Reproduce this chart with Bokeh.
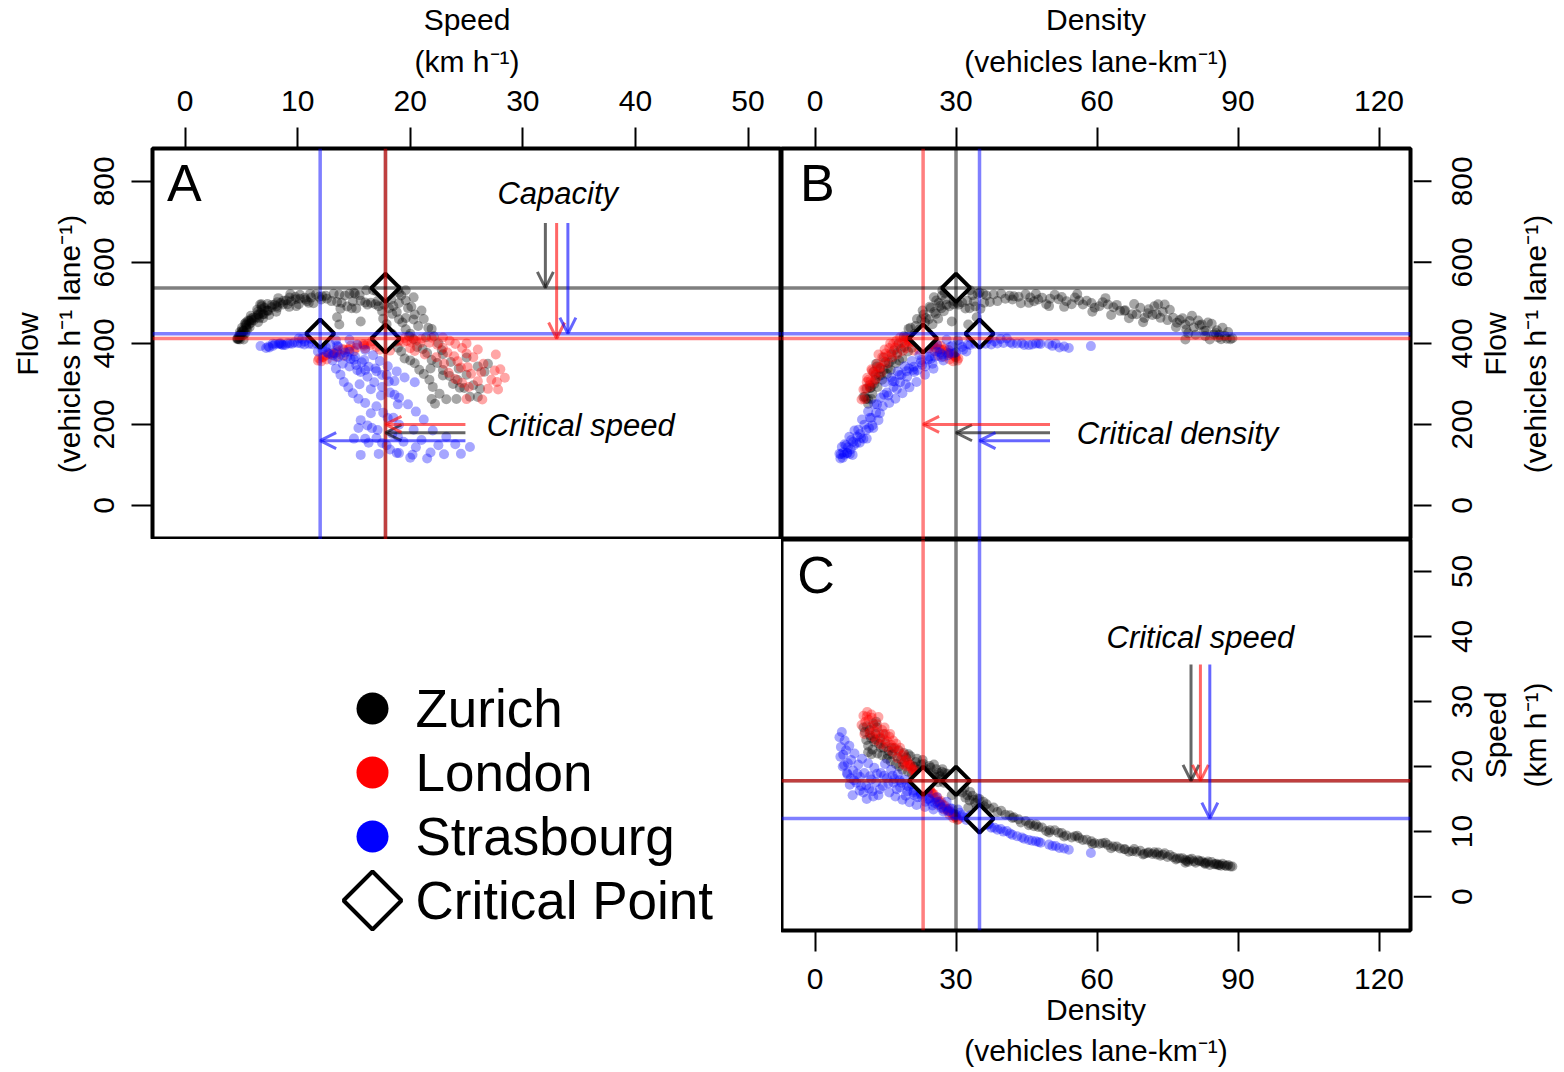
import numpy as np
from bokeh.plotting import figure
from bokeh.models import Range1d, FixedTicker, Span, Arrow, OpenHead, Label
from bokeh.layouts import row, column
from bokeh.embed import file_html
from bokeh.resources import INLINE
from bokeh.core.properties import value

FONT = "Liberation Sans"

# ---------------- data ----------------
cities = ["Zurich", "London", "Strasbourg"]
colors = ["#000000", "#ff0000", "#0000ff"]

zurich_density = [
    10.6, 10.9, 11.3, 11.6, 11.9, 12.2, 12.6, 12.9, 13.3, 13.6, 13.9, 14.3, 14.6, 15.0, 15.3,
    15.7, 16.1, 16.4, 16.8, 17.2, 17.5, 17.9, 18.3, 18.6, 19.0, 19.4, 19.8, 20.2, 20.6, 21.0,
    21.4, 21.8, 22.2, 22.6, 23.0, 23.4, 23.8, 24.2, 24.6, 25.0, 25.4, 25.8, 26.2, 26.6, 27.0,
    27.4, 27.8, 28.2, 28.6, 29.0, 29.4, 29.8, 30.3, 30.8, 31.3, 31.8, 32.4, 32.9, 33.5, 34.1,
    34.6, 35.2, 35.8, 36.5, 37.2, 38.0, 38.8, 39.6, 40.5, 41.4, 42.3, 43.3,
    44.8, 46.6, 48.3, 51.8, 53.5, 55.3, 57.0, 60.5, 62.3, 64.9, 67.5, 69.2, 70.1, 71.0, 72.7,
    74.4, 76.2, 77.0, 78.8, 79.7, 80.6, 82.3, 83.2, 84.9, 85.8, 88.4, 86.7, 84.0, 78.8,
    50.0, 58.8, 66.0, 73.5, 81.5, 87.2, 45.8, 63.5, 75.5, 81.0, 29.1, 32.6, 34.4, 12.4, 13.2, 11.0,
    18.9, 20.3, 21.7, 23.1, 24.4, 25.7, 26.9, 27.6, 28.9, 29.5, 30.6, 31.1, 32.0, 33.0, 33.8,
    35.0, 36.0, 22.9, 19.9, 21.2, 23.6, 26.3, 28.0, 30.0, 25.3, 27.1,
    42.0, 43.8, 47.5, 49.2, 52.5, 54.6, 56.2, 59.5, 61.2, 65.8, 68.4, 70.8, 73.0, 75.0, 77.6,
    79.0, 82.8, 85.2, 86.0, 87.6, 83.6,
    11.7, 12.8, 14.0, 15.5, 13.0, 14.6, 16.3, 17.8, 12.0, 11.3, 10.3,
    45.5, 47.0, 49.8, 51.0, 53.0, 55.8, 57.8, 59.0, 61.8, 63.0, 64.2, 66.8, 67.9, 69.8,
    71.8, 72.2, 74.0, 76.8, 78.2, 79.4, 80.2, 81.8, 83.0, 84.4, 85.5, 86.4, 87.9, 88.8,
]
zurich_speed = [
    25.3, 24.1, 23.2, 25.6, 24.4, 22.6, 23.8, 25.0, 22.0, 23.5, 24.3, 21.7, 22.9, 23.6, 21.2,
    22.4, 20.8, 21.9, 22.8, 20.4, 21.5, 20.0, 21.1, 19.5, 20.6, 21.4, 19.2, 20.3, 18.9, 19.9,
    20.7, 18.6, 19.6, 20.3, 18.4, 19.3, 18.0, 19.0, 19.8, 17.9, 18.8, 19.6, 17.6, 18.5, 19.2,
    17.5, 18.3, 18.9, 17.2, 18.0, 16.9, 17.6, 16.5, 17.2, 16.0, 16.7, 15.6, 14.8, 15.5, 14.4,
    15.1, 13.8, 14.6, 14.2, 13.5, 13.7, 13.0, 13.2, 12.6, 12.5, 12.2, 11.9,
    11.63, 10.82, 10.62, 9.83, 9.42, 9.28, 8.70, 8.13, 7.96, 7.40, 6.99, 7.05, 6.60, 6.82, 6.49,
    6.67, 6.08, 5.86, 5.67, 5.71, 5.45, 5.43, 5.18, 4.97, 4.83, 4.64, 5.06, 4.88, 5.20,
    10.2, 8.5, 7.3, 6.3, 5.6, 4.8, 11.2, 7.7, 6.4, 5.2, 15.6, 13.7, 13.5, 26.6, 26.0, 26.2,
    22.1, 21.6, 21.2, 20.4, 20.1, 18.4, 18.1, 19.0, 18.4, 17.1, 16.2, 17.0, 15.2, 16.1, 14.9,
    15.0, 13.9, 21.0, 21.9, 20.0, 19.6, 19.0, 17.7, 17.5, 20.3, 19.6,
    12.1, 11.4, 10.7, 10.1, 9.8, 9.1, 9.0, 8.2, 8.2, 7.3, 6.9, 6.7, 6.8, 6.1, 5.9,
    5.5, 5.2, 5.0, 4.9, 4.7, 5.4,
    24.8, 24.2, 22.9, 21.8, 26.9, 25.0, 22.9, 22.5, 21.9, 22.2, 26.0,
    10.99, 11.11, 9.88, 10.2, 9.25, 9.35, 8.74, 8.10, 8.28, 7.46, 7.71, 6.92, 7.32, 6.48,
    6.55, 6.81, 6.46, 5.73, 5.91, 5.35, 5.84, 5.44, 5.04, 5.31, 5.06, 4.75, 4.87, 4.65,
]

london_density = [
    9.9, 10.3, 10.7, 11.1, 11.4, 11.8, 12.1, 12.5, 12.8, 13.2, 13.6, 13.9, 14.3, 14.7, 15.0,
    15.4, 15.8, 16.2, 16.6, 17.0, 17.3, 17.7, 18.1, 18.5, 18.9, 19.2, 19.6, 20.0, 20.4, 20.8,
    21.2, 21.6, 22.0, 22.4, 22.8, 23.2, 23.6, 24.0, 24.4, 24.8, 25.2, 25.6, 26.0, 26.4, 26.8,
    27.2, 27.6, 28.0, 28.4, 28.8, 29.2, 29.6, 30.0, 30.5,
    19.8, 21.4, 23.4, 25.0, 26.6, 28.2, 29.8, 22.6, 24.6, 20.6,
    10.5, 11.6, 12.3, 13.0, 14.0, 15.2, 16.4, 17.5, 18.7, 19.4, 21.0, 22.2, 23.0, 24.2, 25.4,
    26.2, 27.4, 28.6, 29.4, 30.3, 13.5, 14.8, 16.0, 12.0, 11.0,
]
london_speed = [
    26.4, 27.8, 26.9, 28.4, 27.2, 26.0, 27.5, 26.3, 25.4, 26.5, 25.1, 24.5, 25.6, 24.2, 25.0,
    23.9, 24.6, 23.3, 24.0, 22.9, 23.5, 22.4, 22.9, 21.7, 21.9, 20.9, 21.0, 20.1, 20.2, 19.4,
    19.5, 18.7, 18.7, 18.0, 18.1, 17.4, 17.1, 16.5, 16.6, 15.9, 15.8, 15.2, 15.3, 14.6, 14.7,
    14.1, 14.0, 13.5, 13.5, 13.0, 12.8, 12.5, 12.2, 11.9,
    20.5, 19.0, 17.3, 15.9, 14.5, 13.3, 12.3, 17.9, 16.2, 19.7,
    25.0, 25.2, 24.6, 24.0, 23.4, 23.0, 22.3, 21.3, 20.4, 20.0, 18.2, 17.3, 17.0, 16.0, 15.0,
    14.1, 13.4, 12.6, 12.1, 11.8, 27.6, 26.0, 25.0, 28.0, 27.7,
]

strasbourg_density = [
    5.2, 5.5, 5.7, 6.0, 6.3, 6.6, 7.0, 7.3, 7.7, 8.1, 8.4, 8.8, 9.2, 9.6, 10.0,
    10.5, 10.9, 11.3, 11.7, 12.2, 12.6, 13.0, 13.5, 14.0, 14.4, 14.9, 15.3, 15.8, 16.2, 16.7,
    17.1, 17.6, 18.1, 18.6, 19.1, 19.6, 20.1, 20.6, 21.1, 21.6, 22.2, 22.8, 23.4, 24.0, 24.6,
    25.2, 25.9, 26.6, 27.3, 28.0, 28.8, 29.6, 30.4, 31.3, 32.2, 33.1, 34.1, 35.2, 36.3, 37.5,
    38.8, 40.1, 41.5, 43.0, 44.5, 46.2, 48.0, 49.8, 52.0, 54.0, 58.7,
    16.5, 18.0, 19.5, 21.0, 22.5, 24.0, 25.5, 27.0, 28.5, 30.0, 31.5, 33.0, 35.8, 37.0,
    39.5, 42.0, 45.5, 47.0, 50.5, 53.0, 8.0, 9.5, 11.0, 12.4, 7.4, 6.8, 5.9,
    5.4, 6.2, 6.9, 7.6, 8.3, 9.0, 9.8, 10.3, 11.5, 12.0, 13.2, 13.8, 14.7, 15.6, 16.9,
    17.4, 18.4, 19.3, 20.0, 20.9, 21.8, 22.6, 23.5, 24.3, 25.0, 26.0, 26.9, 28.3, 29.2, 30.8,
    32.6, 34.6, 36.8, 38.2, 40.8, 44.0, 47.6, 51.2,
]
strasbourg_speed = [
    24.5, 23.0, 25.3, 21.8, 24.0, 22.5, 20.5, 23.2, 21.0, 19.4, 22.0, 17.5, 20.3, 18.4, 21.2,
    19.0, 17.1, 20.5, 18.5, 16.2, 19.8, 17.6, 15.6, 19.0, 17.0, 20.4, 18.2, 16.0, 19.5, 17.5,
    15.4, 18.8, 16.8, 14.9, 18.0, 16.2, 14.5, 17.3, 15.6, 14.1, 16.7, 15.2, 13.8, 16.0, 14.7,
    13.4, 15.3, 14.2, 13.1, 14.6, 13.6, 12.7, 13.4, 12.5, 11.8, 12.5, 11.7, 11.3, 11.0, 10.6,
    10.3, 10.0, 9.7, 9.3, 8.9, 8.6, 8.3, 8.0, 7.5, 7.2, 6.7,
    18.6, 17.9, 17.0, 16.3, 15.7, 15.0, 14.4, 13.8, 13.2, 12.6, 12.2, 12.0, 11.6, 11.1,
    10.4, 9.5, 8.7, 8.5, 7.8, 7.4, 15.6, 16.3, 15.0, 15.4, 17.2, 19.0, 20.0,
    21.5, 20.2, 18.8, 18.2, 17.9, 18.9, 17.0, 16.0, 16.6, 18.0, 18.9, 16.5, 18.6, 17.4, 18.1,
    16.5, 17.5, 15.5, 16.9, 16.0, 15.3, 15.9, 14.6, 15.1, 14.0, 14.6, 13.6, 13.1, 13.5, 12.9,
    12.2, 11.9, 11.2, 10.6, 10.1, 9.1, 8.4, 7.8,
]

# critical points (Zurich, London, Strasbourg)
crit_density = [30.0, 23.0, 35.0]
crit_speed = [17.8, 17.8, 12.0]
crit_flow = [537, 412, 424]

speed_ticks = [0, 10, 20, 30, 40, 50]
density_ticks = [0, 30, 60, 90, 120]
flow_ticks = [0, 200, 400, 600, 800]
legend_labels = ["Zurich", "London", "Strasbourg", "Critical Point"]

FLOW_TITLE = ["Flow", "(vehicles h\u207b\u00b9 lane\u207b\u00b9)"]
SPEED_TITLE = ["Speed", "(km h\u207b\u00b9)"]
DENS_TITLE = ["Density", "(vehicles lane-km\u207b\u00b9)"]

densities = [zurich_density, london_density, strasbourg_density]
speeds = [zurich_speed, london_speed, strasbourg_speed]
# flow = speed x density (fundamental relation of traffic flow)
flows = [list(np.round(np.array(d) * np.array(s), 1)) for d, s in zip(densities, speeds)]

SPEED_X = (-2.89, 52.97)
FLOW_Y = (-84, 881)
DENS_X = (-7.13, 126.7)
SPEED_Y = (-5.2, 54.9)

FW, FH = 629, 391
LEFT_B, TOP_B, BOTTOM_B = 152, 148, 140
GAP_R, SIDE_W = 3, 147


def make_panel(xr, yr, xloc, yloc, left, right, top, bottom):
    p = figure(frame_width=FW, frame_height=FH,
               x_range=Range1d(*xr), y_range=Range1d(*yr),
               x_axis_location=xloc, y_axis_location=yloc,
               min_border_left=left, min_border_right=right,
               min_border_top=top, min_border_bottom=bottom,
               toolbar_location=None, tools="", output_backend="svg")
    p.grid.visible = False
    p.outline_line_color = "black"
    p.outline_line_width = 4
    p.outline_line_alpha = 1
    p.background_fill_color = "white"
    p.border_fill_color = "white"
    return p


def style_axis(ax, ticks, label, tick_orient=None, standoff=17, label_standoff=6):
    ax.ticker = FixedTicker(ticks=ticks)
    ax.minor_tick_in = 0
    ax.minor_tick_out = 0
    ax.major_tick_in = 0
    ax.major_tick_out = 21
    ax.major_tick_line_width = 2
    ax.major_tick_line_color = "black"
    ax.axis_line_color = None
    ax.major_label_text_font = FONT
    ax.major_label_text_font_size = "30px"
    ax.major_label_text_color = "black"
    ax.major_label_standoff = standoff
    ax.axis_label = label
    ax.axis_label_text_font = FONT
    ax.axis_label_text_font_size = "30px"
    ax.axis_label_text_font_style = "normal"
    ax.axis_label_text_color = "black"
    ax.axis_label_text_line_height = 1.25
    ax.axis_label_standoff = label_standoff
    if tick_orient is not None:
        ax.major_label_orientation = tick_orient


def side_axis(y_range, ticks, title_lines, top, bottom):
    """Right-hand axis strip (ticks, labels and two-line title reading bottom-to-top),
    sharing the y range of the panel on its left; x is in pixels from the frame edge."""
    s = figure(frame_width=SIDE_W, frame_height=FH, x_range=Range1d(GAP_R, GAP_R + SIDE_W),
               y_range=y_range, min_border_left=0, min_border_right=0,
               min_border_top=top, min_border_bottom=bottom,
               x_axis_location=None, y_axis_location=None,
               toolbar_location=None, tools="", output_backend="svg")
    s.grid.visible = False
    s.outline_line_color = None
    s.background_fill_color = "white"
    s.border_fill_color = "white"
    s.segment(x0=GAP_R, x1=21, y0=ticks, y1=ticks, line_color="black", line_width=2)
    s.text(x=51.5, y=ticks, text=[str(t) for t in ticks], angle=np.pi / 2,
           text_font=value(FONT), text_font_size="30px", text_align="center",
           text_baseline="middle", text_color="black")
    mid = (y_range.start + y_range.end) / 2
    s.text(x=[84.5, 124.5], y=[mid, mid], text=title_lines, angle=np.pi / 2,
           text_font=value(FONT), text_font_size="30px", text_align="center",
           text_baseline="middle", text_color="black")
    return s


def add_points(p, xs, ys):
    for x, y, c in zip(xs, ys, colors):
        p.scatter(x=x, y=y, size=10, fill_color=c, fill_alpha=0.35, line_color=None)


def add_spans(p, vlocs, hlocs):
    for v, c in zip(vlocs, colors):
        p.add_layout(Span(location=v, dimension="height", line_color=c, line_alpha=0.5, line_width=3.5))
    for h, c in zip(hlocs, colors):
        p.add_layout(Span(location=h, dimension="width", line_color=c, line_alpha=0.5, line_width=3.5))


def add_arrow(p, x0, y0, x1, y1, c):
    p.add_layout(Arrow(end=OpenHead(size=16, line_color=c, line_width=3, line_alpha=0.6),
                       x_start=x0, y_start=y0, x_end=x1, y_end=y1,
                       line_color=c, line_width=3, line_alpha=0.6))


def add_diamonds(p, xs, ys):
    p.scatter(x=xs, y=ys, marker="square", angle=np.pi / 4, size=20,
              fill_color="white", line_color="black", line_width=4)


def add_text(p, x, y, txt, size="31px", style="italic", align="left"):
    p.add_layout(Label(x=x, y=y, text=txt, text_font=FONT, text_font_size=size,
                       text_font_style=style, text_align=align, text_baseline="middle",
                       text_color="black"))


arrow_row_flow = [179.5, 200, 160]   # vertical placement of the horizontal arrows

# ---------------- Panel A: speed vs flow ----------------
pA = make_panel(SPEED_X, FLOW_Y, "above", "left", LEFT_B, 0, TOP_B, 0)
style_axis(pA.xaxis[0], speed_ticks, "\n".join(SPEED_TITLE), label_standoff=10)
style_axis(pA.yaxis[0], flow_ticks, "\n".join(FLOW_TITLE), tick_orient="vertical")
add_points(pA, speeds, flows)
add_spans(pA, crit_speed, crit_flow)
for i, c in enumerate(colors):
    add_arrow(pA, 32 + i, 697, 32 + i, crit_flow[i], c)
    add_arrow(pA, 24.9, arrow_row_flow[i], crit_speed[i], arrow_row_flow[i], c)
add_diamonds(pA, crit_speed, crit_flow)
add_text(pA, 33.1, 770, "Capacity", align="center")
add_text(pA, 26.8, 197, "Critical speed")
add_text(pA, -1.6, 795, "A", size="52px", style="normal")

# ---------------- Panel B: density vs flow ----------------
pB = make_panel(DENS_X, FLOW_Y, "above", None, 0, GAP_R, TOP_B, 0)
style_axis(pB.xaxis[0], density_ticks, "\n".join(DENS_TITLE), label_standoff=10)
add_points(pB, densities, flows)
add_spans(pB, crit_density, crit_flow)
for i, c in enumerate(colors):
    add_arrow(pB, 50, arrow_row_flow[i], crit_density[i], arrow_row_flow[i], c)
add_diamonds(pB, crit_density, crit_flow)
add_text(pB, 55.7, 177, "Critical density")
add_text(pB, -3.2, 795, "B", size="52px", style="normal")
sB = side_axis(pB.y_range, flow_ticks, FLOW_TITLE, TOP_B, 0)

# ---------------- Panel C: density vs speed ----------------
pC = make_panel(DENS_X, SPEED_Y, "below", None, 0, GAP_R, 0, BOTTOM_B)
style_axis(pC.xaxis[0], density_ticks, "\n".join(DENS_TITLE), label_standoff=1)
add_points(pC, densities, speeds)
add_spans(pC, crit_density, crit_speed)
for i, c in enumerate(colors):
    add_arrow(pC, 80 + 2 * i, 35.7, 80 + 2 * i, crit_speed[i], c)
add_diamonds(pC, crit_density, crit_speed)
add_text(pC, 82, 39.8, "Critical speed", align="center")
add_text(pC, -3.8, 49.4, "C", size="52px", style="normal")
sC = side_axis(pC.y_range, speed_ticks, SPEED_TITLE, 0, BOTTOM_B)

# ---------------- Legend panel ----------------
LW, LH = LEFT_B + FW, FH + BOTTOM_B
pL = figure(frame_width=LW, frame_height=LH, x_range=Range1d(0, LW),
            y_range=Range1d((LH - 169) / 64, -169 / 64), min_border=0,
            x_axis_location=None, y_axis_location=None,
            toolbar_location=None, tools="", output_backend="svg")
pL.grid.visible = False
pL.outline_line_color = None
rows_idx = list(range(len(legend_labels)))
pL.scatter(x=[372] * 3, y=rows_idx[:3], size=32, fill_color=colors, line_color=None)
pL.scatter(x=[372], y=rows_idx[3:], marker="square", angle=np.pi / 4, size=41,
           fill_color="white", line_color="black", line_width=4)
pL.text(x=[415] * 4, y=rows_idx, text=legend_labels, text_font=value(FONT),
        text_font_size="53px", text_baseline="middle", text_color="black")

layout = column(row(pA, pB, sB), row(pL, pC, sC))
open("out.html", "w").write(file_html(layout, INLINE))
